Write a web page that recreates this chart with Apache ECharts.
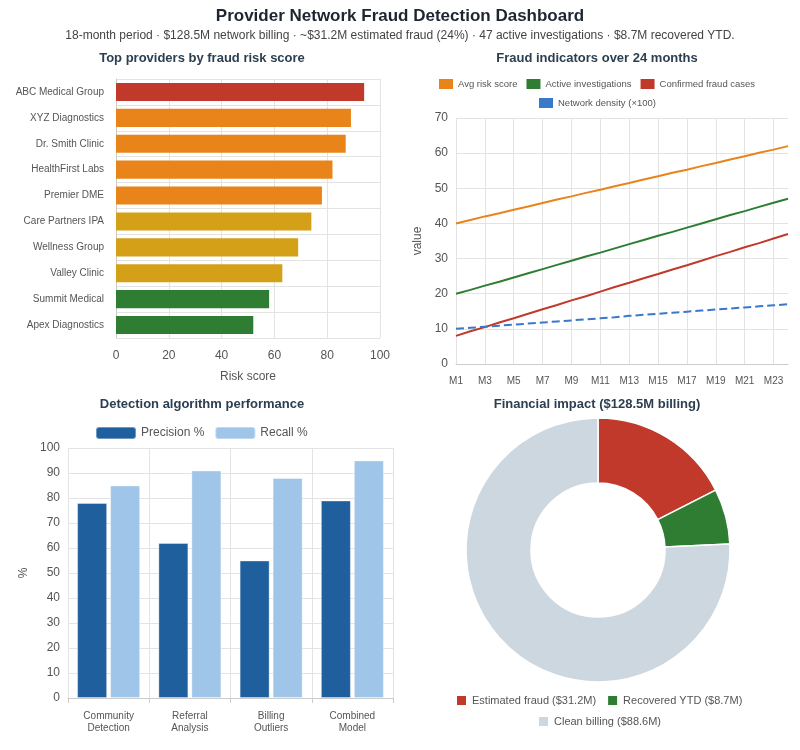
<!DOCTYPE html>
<html>
<head>
<meta charset="utf-8">
<script src="https://cdn.jsdelivr.net/npm/echarts@6/dist/echarts.min.js"></script>
<style>
  html, body { margin: 0; padding: 0; background: #fff; }
  #main { width: 800px; height: 750px; }
</style>
</head>
<body>
<div id="main"></div>
<script>
// top providers
var providers = ['ABC Medical Group', 'XYZ Diagnostics', 'Dr. Smith Clinic', 'HealthFirst Labs', 'Premier DME',
  'Care Partners IPA', 'Wellness Group', 'Valley Clinic', 'Summit Medical', 'Apex Diagnostics'];
var riskScores = [94, 89, 87, 82, 78, 74, 69, 63, 58, 52];
var riskColors = ['#c0392b', '#e8841a', '#e8841a', '#e8841a', '#e8841a', '#d4a017', '#d4a017', '#d4a017', '#2e7d32', '#2e7d32'];

// 24 months
var months = [];
for (var i = 1; i <= 24; i++) months.push('M' + i);
var avgRisk = [40, 41, 42, 42.9, 43.9, 44.8, 45.8, 46.8, 47.7, 48.7, 49.6, 50.6, 51.5, 52.5, 53.4, 54.4, 55.3, 56.3, 57.2, 58.2, 59.1, 60.1, 61, 62];
var activeInv = [20, 21.1, 22.3, 23.4, 24.6, 25.8, 27, 28.2, 29.4, 30.6, 31.7, 32.9, 34.1, 35.3, 36.5, 37.6, 38.8, 40, 41.2, 42.4, 43.5, 44.7, 45.9, 47];
var confirmed = [8, 9.3, 10.5, 11.8, 13, 14.3, 15.6, 16.8, 18.1, 19.3, 20.6, 21.9, 23.1, 24.4, 25.6, 26.9, 28.1, 29.4, 30.7, 31.9, 33.2, 34.4, 35.7, 37];
var density = [10, 10.3, 10.6, 10.9, 11.2, 11.5, 11.8, 12.1, 12.4, 12.7, 13, 13.3, 13.7, 14, 14.3, 14.6, 14.9, 15.2, 15.5, 15.8, 16.1, 16.4, 16.7, 17];

// algorithms
var algorithms = ['Community\nDetection', 'Referral\nAnalysis', 'Billing\nOutliers', 'Combined\nModel'];
var precision = [78, 62, 55, 79];
var recall = [85, 91, 88, 95];

// financial (slice sizes as drawn in the donut)
var finNames = ['Estimated fraud ($31.2M)', 'Recovered YTD ($8.7M)', 'Clean billing ($88.6M)'];
var finValues = [22.5, 8.7, 97.3];
var finColors = ['#c0392b', '#2e7d32', '#cdd7e0'];

var chart = echarts.init(document.getElementById('main'));

var axisLbl = { color: '#555', fontSize: 12 };
var gridLine = { lineStyle: { color: '#e3e3e3' } };
var axisLn = { lineStyle: { color: '#ccc' } };
var subTitle = { fontSize: 13, fontWeight: 'bold', color: '#2c3e50' };

chart.setOption({
  animation: false,
  title: [
    { text: 'Provider Network Fraud Detection Dashboard', left: 400, top: 8, textAlign: 'center', padding: 0,
      textStyle: { fontSize: 17, fontWeight: 'bold', color: '#1c2530' } },
    { text: '18-month period · $128.5M network billing · ~$31.2M estimated fraud (24%) · 47 active investigations · $8.7M recovered YTD.',
      left: 400, top: 30, textAlign: 'center', padding: 0, textStyle: { fontSize: 12, fontWeight: 'normal', color: '#444' } },
    { text: 'Top providers by fraud risk score', left: 202, top: 52, textAlign: 'center', padding: 0, textStyle: subTitle },
    { text: 'Fraud indicators over 24 months', left: 597, top: 52, textAlign: 'center', padding: 0, textStyle: subTitle },
    { text: 'Detection algorithm performance', left: 202, top: 398, textAlign: 'center', padding: 0, textStyle: subTitle },
    { text: 'Financial impact ($128.5M billing)', left: 597, top: 398, textAlign: 'center', padding: 0, textStyle: subTitle }
  ],
  legend: [
    { data: ['Avg risk score', 'Active investigations', 'Confirmed fraud cases'], left: 439, top: 79, padding: 0,
      icon: 'rect', itemWidth: 14, itemHeight: 10, itemGap: 9, textStyle: { fontSize: 9.5, color: '#555' } },
    { data: ['Network density (×100)'], left: 539, top: 98, padding: 0,
      icon: 'rect', itemWidth: 14, itemHeight: 10, textStyle: { fontSize: 9.5, color: '#555' } },
    { data: ['Precision %', 'Recall %'], left: 95, top: 426, padding: 0,
      itemWidth: 40, itemHeight: 12, itemGap: 10, textStyle: { fontSize: 12, color: '#555' } },
    { data: [finNames[0], finNames[1]], left: 455, top: 694, padding: 0,
      icon: 'rect', itemWidth: 11, itemHeight: 11, itemGap: 10, textStyle: { fontSize: 11, color: '#555' } },
    { data: [finNames[2]], left: 537, top: 715, padding: 0,
      icon: 'rect', itemWidth: 11, itemHeight: 11, textStyle: { fontSize: 11, color: '#555' } }
  ],
  grid: [
    { left: 116, right: 420, top: 79, bottom: 412 },
    { left: 456, right: 12, top: 118, bottom: 386 },
    { left: 68, right: 407, top: 448, bottom: 52 }
  ],
  xAxis: [
    { gridIndex: 0, type: 'value', min: 0, max: 100, interval: 20, name: 'Risk score', nameLocation: 'middle', nameGap: 33,
      nameTextStyle: { fontSize: 12, color: '#555' }, axisLabel: { color: '#555', fontSize: 12, margin: 12 },
      splitLine: gridLine, axisLine: { show: false } },
    { gridIndex: 1, type: 'category', data: months, boundaryGap: false,
      axisLabel: { color: '#555', fontSize: 10, interval: 1, margin: 12 }, axisTick: { show: false },
      splitLine: { show: true, interval: 1, lineStyle: { color: '#e3e3e3' } }, axisLine: axisLn },
    { gridIndex: 2, type: 'category', data: algorithms,
      axisLabel: { color: '#555', fontSize: 10, lineHeight: 12, margin: 12 }, axisTick: { show: true, lineStyle: { color: '#ccc' } },
      splitLine: { show: true, lineStyle: { color: '#e3e3e3' } }, axisLine: axisLn }
  ],
  yAxis: [
    { gridIndex: 0, type: 'category', data: providers, inverse: true,
      axisLabel: { color: '#555', fontSize: 10, margin: 12 }, axisTick: { show: false },
      splitLine: { show: true, lineStyle: { color: '#e3e3e3' } }, axisLine: axisLn },
    { gridIndex: 1, type: 'value', min: 0, max: 70, interval: 10, name: 'value', nameLocation: 'middle', nameGap: 32,
      nameTextStyle: { fontSize: 12, color: '#555' }, axisLabel: axisLbl, splitLine: gridLine },
    { gridIndex: 2, type: 'value', min: 0, max: 100, interval: 10, name: '%', nameLocation: 'middle', nameGap: 38,
      nameTextStyle: { fontSize: 12, color: '#555' }, axisLabel: axisLbl, splitLine: gridLine }
  ],
  series: [
    { type: 'bar', xAxisIndex: 0, yAxisIndex: 0, barCategoryGap: '30%',
      data: riskScores.map(function (v, i) { return { value: v, itemStyle: { color: riskColors[i] } }; }) },
    { type: 'line', name: 'Avg risk score', xAxisIndex: 1, yAxisIndex: 1, data: avgRisk, showSymbol: false,
      color: '#e8841a', lineStyle: { width: 2 } },
    { type: 'line', name: 'Active investigations', xAxisIndex: 1, yAxisIndex: 1, data: activeInv, showSymbol: false,
      color: '#2e7d32', lineStyle: { width: 2 } },
    { type: 'line', name: 'Confirmed fraud cases', xAxisIndex: 1, yAxisIndex: 1, data: confirmed, showSymbol: false,
      color: '#c0392b', lineStyle: { width: 2 } },
    { type: 'line', name: 'Network density (×100)', xAxisIndex: 1, yAxisIndex: 1, data: density, showSymbol: false,
      color: '#3a78c9', lineStyle: { width: 2, type: 'dashed' } },
    { type: 'bar', name: 'Precision %', xAxisIndex: 2, yAxisIndex: 2, data: precision, barWidth: 30, barGap: '10%',
      itemStyle: { color: '#1f5f9e', borderColor: 'rgba(255,255,255,0.35)', borderWidth: 1 } },
    { type: 'bar', name: 'Recall %', xAxisIndex: 2, yAxisIndex: 2, data: recall, barWidth: 30, barGap: '10%',
      itemStyle: { color: '#9fc5e8', borderColor: 'rgba(255,255,255,0.35)', borderWidth: 1 } },
    { type: 'pie', center: [598, 550], radius: [67, 132], startAngle: 90, label: { show: false },
      itemStyle: { borderColor: '#fff', borderWidth: 1.5 },
      data: finNames.map(function (n, i) { return { name: n, value: finValues[i], itemStyle: { color: finColors[i] } }; }) }
  ]
});
</script>
</body>
</html>
